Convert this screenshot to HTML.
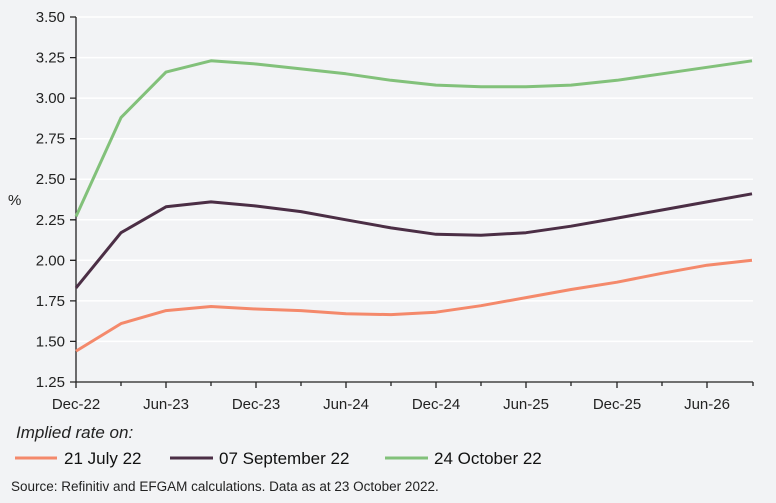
<!DOCTYPE html>
<html><head><meta charset="utf-8"><style>
html,body{margin:0;padding:0;background:#f2f3f5;}
svg{display:block;font-family:"Liberation Sans",sans-serif;}
</style></head><body>
<svg width="776" height="503" viewBox="0 0 776 503">
<rect width="776" height="503" fill="#f2f3f5"/>
<g stroke="#ffffff" stroke-width="1.5">
<line x1="76" x2="753" y1="17" y2="17"/><line x1="76" x2="753" y1="57.6" y2="57.6"/>
<line x1="76" x2="753" y1="98.1" y2="98.1"/><line x1="76" x2="753" y1="138.7" y2="138.7"/>
<line x1="76" x2="753" y1="179.2" y2="179.2"/><line x1="76" x2="753" y1="219.8" y2="219.8"/>
<line x1="76" x2="753" y1="260.3" y2="260.3"/><line x1="76" x2="753" y1="300.9" y2="300.9"/>
<line x1="76" x2="753" y1="341.4" y2="341.4"/>
</g>
<g stroke="#222" stroke-width="1.3" fill="none">
<line x1="76" y1="17" x2="76" y2="382"/>
<line x1="76" y1="382" x2="753" y2="382"/>
<path d="M70 17H76M70 57.6H76M70 98.1H76M70 138.7H76M70 179.2H76M70 219.8H76M70 260.3H76M70 300.9H76M70 341.4H76M70 382H76"/>
<path d="M76 382V388M121 382V386M166 382V388M211 382V386M256 382V388M301 382V386M346 382V388M391 382V386M436 382V388M481 382V386M526 382V388M571 382V386M617 382V388M662 382V386M707 382V388M753 382V386"/>
</g>
<g font-size="15" fill="#222" text-anchor="end">
<text x="65" y="22">3.50</text><text x="65" y="62.6">3.25</text><text x="65" y="103.1">3.00</text>
<text x="65" y="143.7">2.75</text><text x="65" y="184.2">2.50</text><text x="65" y="224.8">2.25</text>
<text x="65" y="265.3">2.00</text><text x="65" y="305.9">1.75</text><text x="65" y="346.4">1.50</text>
<text x="65" y="387">1.25</text>
</g>
<text x="8" y="205" font-size="15" fill="#222">%</text>
<g font-size="15" fill="#222" text-anchor="middle">
<text x="76" y="409">Dec-22</text><text x="166" y="409">Jun-23</text><text x="256" y="409">Dec-23</text>
<text x="346" y="409">Jun-24</text><text x="436" y="409">Dec-24</text><text x="526" y="409">Jun-25</text>
<text x="617" y="409">Dec-25</text><text x="707" y="409">Jun-26</text>
</g>
<g fill="none" stroke-width="3" stroke-linejoin="round">
<polyline stroke="#82c17a" points="76,216.5 121,117.6 166,72.1 211,60.8 256,64 301,68.9 346,73.8 391,80.3 436,85.1 481,86.7 526,86.7 571,85.1 617,80.3 662,73.8 707,67.3 752,60.8"/>
<polyline stroke="#4b2e45" points="76,287.9 121,232.7 166,206.8 211,201.9 256,206 301,211.6 346,219.8 391,227.9 436,234.3 481,235.2 526,232.7 571,226.2 617,218.1 662,210 707,201.9 752,193.8"/>
<polyline stroke="#f4896b" points="76,351.1 121,323.6 166,310.6 211,306.5 256,309 301,310.6 346,313.8 391,314.6 436,312.2 481,305.7 526,297.6 571,289.5 617,282.2 662,273.3 707,265.2 752,260.3"/>
</g>
<text x="16" y="438" font-size="17" font-style="italic" fill="#222">Implied rate on:</text>
<g stroke-width="3">
<line x1="15" x2="57" y1="458" y2="458" stroke="#f4896b"/>
<line x1="170" x2="213" y1="458" y2="458" stroke="#4b2e45"/>
<line x1="385" x2="428" y1="458" y2="458" stroke="#82c17a"/>
</g>
<g font-size="17" fill="#111">
<text x="64" y="464">21 July 22</text>
<text x="219" y="464">07 September 22</text>
<text x="434" y="464">24 October 22</text>
</g>
<text x="11" y="491" font-size="13.5" fill="#222">Source: Refinitiv and EFGAM calculations. Data as at 23 October 2022.</text>
</svg>
</body></html>
